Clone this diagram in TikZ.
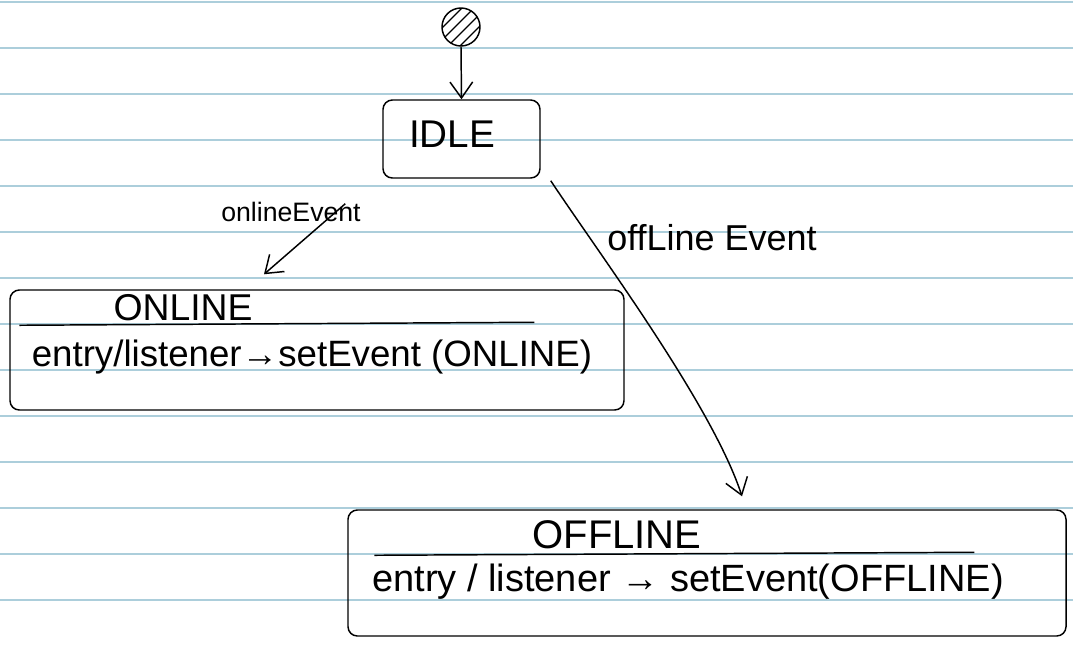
\documentclass[tikz,border=0pt]{standalone}
\usepackage{fontspec}
\setmainfont{Liberation Sans}
\usetikzlibrary{arrows.meta,calc}
\definecolor{rulecol}{RGB}{172,206,219}
\tikzset{
  ink/.style={line width=1.1pt, draw=black},
  statebox/.style={ink, rounded corners=7pt, inner sep=0pt},
  trans/.style={line width=1.1pt, -{Straight Barb[length=12pt,width=17pt,line width=1.1pt]}},
  lbl/.style={inner sep=0pt},
}
\begin{document}
\begin{tikzpicture}[x=0.75pt,y=-0.75pt]
\useasboundingbox (0,0) rectangle (1073,644);
% ruled paper
\foreach \k in {0,...,13}
  \draw[rulecol, line width=1.5pt] (0,{1.5+46.05*\k}) -- (1073,{1.5+46.05*\k});

% initial state
\node[ink, circle, minimum size=28.5pt, inner sep=0pt] (init) at (461,27) {};
\begin{scope}
  \clip (461,27) circle [radius=19];
  \foreach \d in {-18,-6,6,18}
    \draw[line width=0.9pt] (461+\d-22,49) -- (461+\d+22,5);
\end{scope}

% states
\node[statebox, minimum width=117.75pt, minimum height=58.5pt] (idle) at (461.5,139) {};
\node[lbl, font=\fontsize{29}{34}\selectfont] (idlename) at (452,134) {IDLE};

\node[statebox, minimum width=460.5pt, minimum height=90pt] (online) at (317,350) {};
\node[lbl, font=\fontsize{28}{33}\selectfont] (onlinename) at (183,308) {ONLINE};
\node[lbl, font=\fontsize{27.5}{32}\selectfont] (onlineentry) at (312,357) {entry/listener→setEvent (ONLINE)};
\draw[ink] ($(online.north west)+(10,36)$) -- ($(online.north west)+(525,33)$);

\node[statebox, minimum width=538.5pt, minimum height=94.5pt] (offline) at (707,573) {};
\node[lbl, font=\fontsize{30}{35}\selectfont] (offlinename) at (617,535) {OFFLINE};
\node[lbl, font=\fontsize{28.5}{33}\selectfont] (offlineentry) at (688,582) {entry / listener → setEvent(OFFLINE)};
\draw[ink] ($(offline.north west)+(27,46)$) -- ($(offline.north west)+(627,43)$);

% transitions
\draw[trans] (init.south) -- (idle.north);

\coordinate (onT) at ($(idle.south west)+(-37,25)$);
\coordinate (onH) at ($(online.north)+(-53,-15)$);
\draw[trans] (onT) -- (onH);
\node[lbl, font=\fontsize{20}{24}\selectfont] (onlbl) at (291,212) {onlineEvent};

\coordinate (offT) at ($(idle.south east)+(10,2)$);
\coordinate (offH) at ($(offline.north)+(35,-13)$);
\draw[trans] (offT) .. controls (600,255) and (712,405) .. (offH);
\node[lbl, font=\fontsize{27}{32}\selectfont] (offlbl) at (712,238) {offLine Event};
\end{tikzpicture}
\end{document}
